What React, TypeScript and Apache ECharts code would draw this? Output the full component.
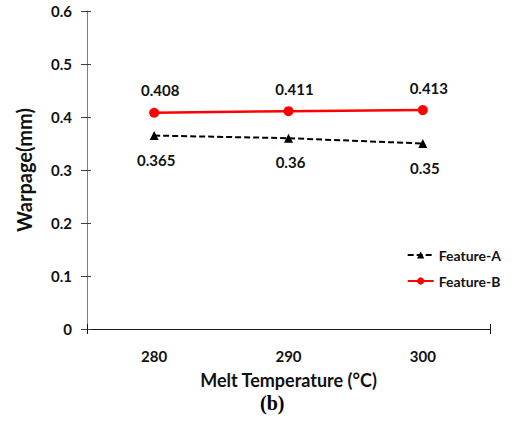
import React, { useEffect, useRef } from "react";
import * as echarts from "echarts";

const categories = ["280", "290", "300"];
const featureA = [0.365, 0.36, 0.35];
const featureB = [0.408, 0.411, 0.413];
const yTicks = { min: 0, max: 0.6, interval: 0.1 };

const FONT = "Lato, 'Open Sans', sans-serif";

export default function App() {
  const ref = useRef<HTMLDivElement>(null);
  useEffect(() => {
    if (!ref.current) return;
    const chart = echarts.init(ref.current, undefined, { renderer: "svg" });
    const labelStyle = { color: "#111111", fontWeight: "bold" as const, fontSize: 15, fontFamily: FONT };
    const endTickAxis = (inside: boolean) => ({
      type: "value",
      min: 0,
      max: 3,
      interval: 3,
      position: "bottom",
      axisLine: { show: false },
      axisTick: { show: true, inside, length: 5, lineStyle: { color: "#1a1a1a" } },
      axisLabel: { show: false },
      splitLine: { show: false },
    });
    chart.setOption({
      animation: false,
      backgroundColor: "#ffffff",
      grid: { left: 87, top: 11, right: 24, bottom: 98, containLabel: false },
      legend: {
        orient: "vertical",
        right: 8,
        top: 243,
        itemWidth: 26,
        itemHeight: 9,
        itemGap: 12,
        textStyle: { color: "#111111", fontWeight: "bold", fontSize: 14, fontFamily: FONT },
        data: ["Feature-A", "Feature-B"],
      },
      xAxis: [
        {
          type: "category",
          data: categories,
          boundaryGap: true,
          name: "Melt Temperature (°C)",
          nameLocation: "middle",
          nameGap: 42,
          nameTextStyle: { color: "#111111", fontWeight: "bold", fontSize: 18, fontFamily: FONT },
          axisLine: { lineStyle: { color: "#1a1a1a", width: 1 } },
          axisTick: { alignWithLabel: true, length: 5, lineStyle: { color: "#1a1a1a" } },
          axisLabel: { ...labelStyle, margin: 19 },
          splitLine: { show: false },
        },
        {
          type: "category",
          data: categories,
          boundaryGap: true,
          position: "bottom",
          axisLine: { show: false },
          axisTick: { alignWithLabel: true, inside: true, length: 5, lineStyle: { color: "#1a1a1a" } },
          axisLabel: { show: false },
          splitLine: { show: false },
        },
        endTickAxis(false),
        endTickAxis(true),
      ],
      yAxis: [
        {
          type: "value",
          ...yTicks,
          name: "Warpage(mm)",
          nameLocation: "middle",
          nameGap: 53,
          nameTextStyle: { color: "#111111", fontWeight: "bold", fontSize: 20, fontFamily: FONT },
          axisLine: { show: true, lineStyle: { color: "#808080", width: 1 } },
          axisTick: { show: true, length: 6, lineStyle: { color: "#404040" } },
          axisLabel: { ...labelStyle, margin: 15, formatter: (v: number) => String(Math.round(v * 10) / 10) },
          splitLine: { show: false },
        },
        {
          type: "value",
          ...yTicks,
          position: "left",
          axisLine: { show: false },
          axisTick: { show: true, inside: true, length: 4, lineStyle: { color: "#404040" } },
          axisLabel: { show: false },
          splitLine: { show: false },
        },
      ],
      series: [
        {
          name: "Feature-A",
          type: "line",
          data: featureA,
          symbol: "triangle",
          symbolSize: 9,
          itemStyle: { color: "#000000" },
          lineStyle: { color: "#000000", width: 2, type: [6, 3] },
          label: { show: true, position: "bottom", distance: 12, offset: [2, 0], ...labelStyle },
        },
        {
          name: "Feature-B",
          type: "line",
          data: featureB,
          symbol: "circle",
          symbolSize: 10,
          itemStyle: { color: "#ff0000" },
          lineStyle: { color: "#ff0000", width: 2.5 },
          label: { show: true, position: "top", distance: 10, offset: [6, 0], ...labelStyle },
        },
      ],
      graphic: [
        {
          type: "text",
          left: 260,
          top: 393,
          style: { text: "(b)", fontFamily: "'Liberation Serif', serif", fontWeight: "bold", fontSize: 20, fill: "#000" },
        },
      ],
    });
    return () => chart.dispose();
  }, []);
  return <div ref={ref} style={{ width: 514, height: 427, position: "absolute", left: 0, top: 0 }} />;
}
